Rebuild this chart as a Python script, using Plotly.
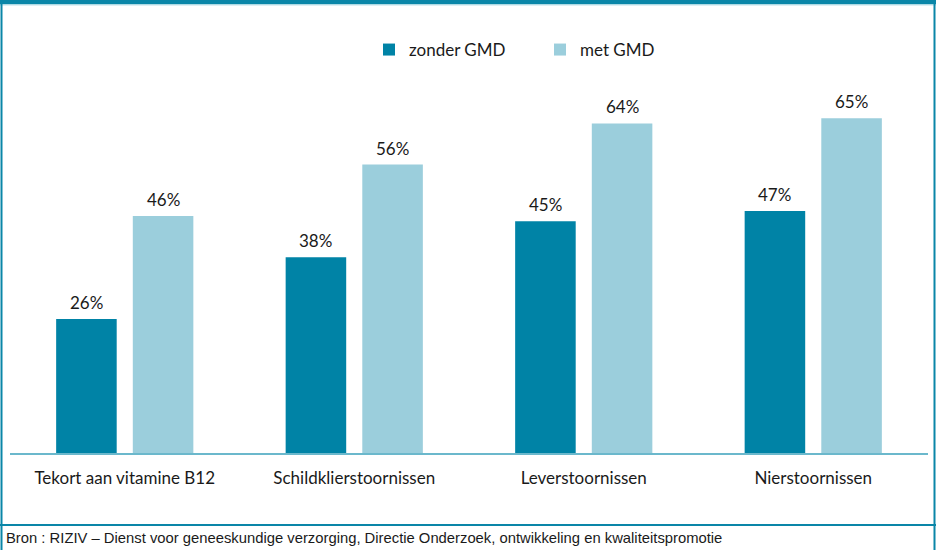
import plotly.graph_objects as go

categories = ["Tekort aan vitamine B12", "Schildklierstoornissen", "Leverstoornissen", "Nierstoornissen"]
zonder_gmd = [26, 38, 45, 47]
met_gmd = [46, 56, 64, 65]
series_names = ["zonder GMD", "met GMD"]
source_text = "Bron : RIZIV – Dienst voor geneeskundige verzorging, Directie Onderzoek, ontwikkeling en kwaliteitspromotie"

W, H = 936, 550
DARK = "#0083A6"
LIGHT = "#9BCEDC"
FRAME = "#0A86A8"
TXT = "#1a1a1a"
FONT = "Lato, Open Sans, sans-serif"

def X(p):
    return p / W

def Y(p):
    return 1 - p / H

fig = go.Figure()
annotations = []
for name, vals, col, shift in [(series_names[0], zonder_gmd, DARK, -38.5), (series_names[1], met_gmd, LIGHT, 38.5)]:
    fig.add_trace(go.Bar(
        x=categories, y=vals, name=name, marker=dict(color=col, line=dict(width=0)),
        hoverinfo="x+y+name",
    ))
    for c, v in zip(categories, vals):
        annotations.append(dict(
            x=c, y=v, xref="x", yref="y", text=f"{v}%", showarrow=False,
            xanchor="center", yanchor="bottom", xshift=shift, yshift=4,
            font=dict(family=FONT, size=17, color=TXT),
        ))

annotations.append(dict(
    text=source_text, xref="paper", yref="paper", x=X(4), y=Y(538),
    xanchor="left", yanchor="middle", showarrow=False,
    font=dict(family="Liberation Sans, Arial, sans-serif", size=14.8, color=TXT),
))

fig.update_layout(
    width=W, height=H, autosize=False,
    margin=dict(l=0, r=0, t=0, b=0),
    paper_bgcolor="white", plot_bgcolor="white",
    barmode="group", bargap=0.332, bargroupgap=0.21,
    font=dict(family=FONT, size=17, color=TXT),
    showlegend=True,
    legend=dict(orientation="h", x=X(369), y=Y(32), xanchor="left", yanchor="top",
                entrywidth=126, entrywidthmode="pixels", itemwidth=30,
                font=dict(size=17, color=TXT), bgcolor="rgba(0,0,0,0)"),
    xaxis=dict(domain=[X(10), X(928)], range=[-0.5, 3.5], showgrid=False, zeroline=False,
               showline=True, linecolor="#6BB8CC", linewidth=2, ticks="", ticklabelstandoff=9,
               tickfont=dict(size=17, color=TXT)),
    yaxis=dict(domain=[Y(453), Y(60)], range=[0, 393 / 5.15], showgrid=False, zeroline=False,
               showline=False, showticklabels=False, ticks=""),
    shapes=[
        dict(type="rect", xref="paper", yref="paper", x0=0, x1=1, y0=Y(4), y1=1,
             fillcolor=FRAME, line=dict(width=0), layer="above"),
        dict(type="line", xref="paper", yref="paper", x0=0, x1=1, y0=Y(4.8), y1=Y(4.8),
             line=dict(color="#8CCAD9", width=1)),
        dict(type="line", xref="paper", yref="paper", x0=X(1.5), x1=X(1.5), y0=0, y1=1,
             line=dict(color=FRAME, width=2)),
        dict(type="line", xref="paper", yref="paper", x0=X(934.5), x1=X(934.5), y0=0, y1=1,
             line=dict(color=FRAME, width=2)),
        dict(type="line", xref="paper", yref="paper", x0=0, x1=1, y0=Y(525), y1=Y(525),
             line=dict(color=FRAME, width=2)),
    ],
    annotations=annotations,
)

fig.write_html("out.html", config={"displayModeBar": False},
               post_script="document.body.style.margin='0';")
